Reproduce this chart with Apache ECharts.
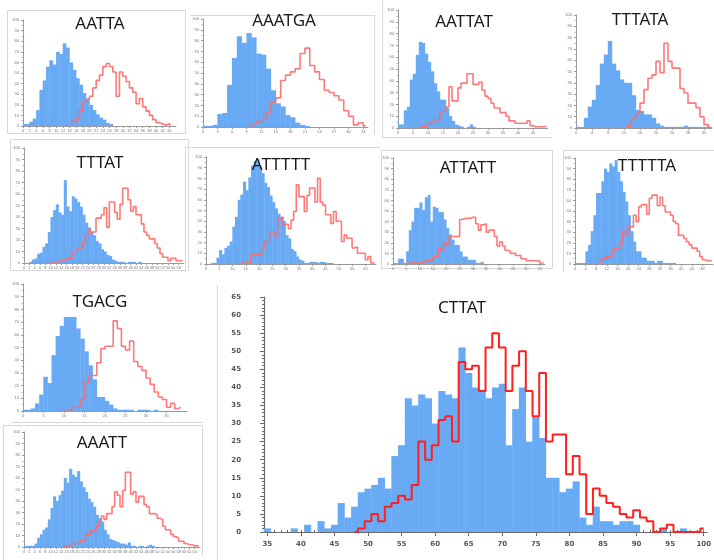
<!DOCTYPE html>
<html><head><meta charset="utf-8">
<script src="https://cdn.jsdelivr.net/npm/echarts@6/dist/echarts.min.js"></script>
<style>html,body{margin:0;padding:0;background:#fff}#c{width:714px;height:560px}</style>
</head><body><div id="c"></div><script>
// ---------- main panel: CTTAT ----------
const cttatX = [35,36,37,38,39,40,41,42,43,44,45,46,47,48,49,50,51,52,53,54,55,56,57,58,59,60,61,62,63,64,65,66,67,68,69,70,71,72,73,74,75,76,77,78,79,80,81,82,83,84,85,86,87,88,89,90,91,92,93,94,95,96,97,98,99,100];
const cttatBlue = [1,0,0,0,1,0,2,0,3,1,2,8,4,7,11,12,13,15,12,21,24,37,35,38,37,30,39,38,37,51,44,40,39,37,40,41,24,34,40,25,32,26,15,15,11,12,14,4,2,7,3,3,2,3,3,2,0,0,0,1,0,0,1,0,0,0];
const cttatRedX = [48,49,50,51,52,53,54,55,56,57,58,59,60,61,62,63,64,65,66,67,68,69,70,71,72,73,74,75,76,77,78,79,80,81,82,83,84,85,86,87,88,89,90,91,92,93,94,95,96,97,98,99,100];
const cttatRed = [0,1,3,5,3,7,8,10,9,13,25,20,24,31,32,25,47,45,46,39,51,55,51,39,46,50,39,32,44,25,27,27,16,21,16,5,12,10,8,7,5,4,6,4,3,0,1,2,0,0,0,0,1];
const cttatXTicks = [35,40,45,50,55,60,65,70,75,80,85,90,95,100];
const cttatYTicks = [0,5,10,15,20,25,30,35,40,45,50,55,60,65];

// ---------- small panels (heights in % of each panel's axis height) ----------
const aattaBlue = [2,2,4,7,15,34,43,56,62,58,70,68,78,74,60,53,45,39,31,26,20,15,11,8,6,3,2];
const aattaRed = [6,4,7,15,23,25,28,36,43,48,56,59,56,51,28,51,47,42,36,32,21,26,18,14,10,6,3,2,1,2,1];
const aattaRedStart = 14;

const aaatgaBlue = [1,1,2,12,13,39,64,84,78,87,83,68,67,54,34,22,19,11,9,4,2,1];
const aaatgaRed = [1,3,5,7,14,23,27,43,48,51,54,68,73,57,51,44,34,32,29,25,15,10,2,4,1];
const aaatgaRedStart = 9;

const aattatBlue = [3,3,15,18,41,46,62,73,72,63,56,48,38,31,24,24,17,10,6,3,2,1,0,1,3,1];
const aattatRed = [1,1,1,4,4,7,7,14,14,18,35,23,23,34,38,38,46,46,37,37,39,32,27,25,21,17,17,13,13,10,6,6,4,4,4,4,6,2,1,1,1,1,1];
const aattatRedStart = 7;

const tttataBlue = [1,1,9,19,25,38,57,65,77,57,51,43,40,40,29,16,15,12,12,9,4,2,1,1,1,1,1,2,1,1,1,1,1,1];
const tttataRed = [1,1,9,13,22,34,44,47,59,49,75,59,53,53,35,31,22,22,18,10,3,1];
const tttataRedStart = 12;

const tttatBlue = [0,0,1,3,4,8,9,14,17,27,40,46,51,44,42,72,49,45,58,56,53,49,42,35,31,27,24,19,17,12,10,7,6,3,2,1,1,1,0,1,1,1,0,1];
const tttatRed = [1,1,1,1,2,2,2,4,4,10,10,13,13,18,24,29,27,27,39,39,42,48,31,53,53,44,38,51,65,65,55,45,49,42,42,34,27,24,21,21,17,13,8,5,5,2,4,4,2,2,2];
const tttatRedStart = 9;

const attttBlue = [0,0,1,1,6,13,9,15,17,21,35,44,60,65,77,69,81,92,96,98,91,85,76,72,64,58,52,47,44,40,27,24,14,12,7,4,3,1,1,2,2,2,1,2,2,1,1,1];
const attttRed = [1,1,1,1,9,9,9,9,15,21,21,30,30,26,43,44,37,37,33,41,49,74,63,63,49,64,71,71,58,80,58,55,46,46,38,49,40,40,21,27,24,24,15,16,10,10,10,4,7,1,1];
const attttRedStart = 13;

const attattBlue = [1,1,5,5,1,12,32,40,53,53,58,51,63,65,40,54,53,49,49,42,34,28,23,18,18,12,7,7,4,4,4,1,1,2];
const attattRed = [1,1,1,1,1,1,1,3,3,3,7,7,15,12,20,18,26,26,26,26,42,43,43,43,44,44,38,32,37,38,30,32,32,26,17,21,17,13,12,10,10,8,8,5,5,3,3,3,3,3,1,1];
const attattRedStart = 5;

const ttttaBlue = [1,1,1,1,12,18,31,46,67,67,78,90,87,95,92,98,87,78,68,59,46,31,21,12,12,6,6,3,3,3,1,3,3,1,1,1,1,1];
const ttttaRed = [1,5,5,7,7,13,15,15,21,31,27,35,35,46,40,54,56,56,47,62,65,65,55,63,55,49,49,46,40,38,27,27,24,21,18,15,15,12,7,4,3,3,3];
const ttttaRedStart = 9;

const tgacgBlue = [1,1,2,6,13,27,22,44,59,67,74,74,74,65,57,47,36,25,11,11,8,5,2,1,1,1,1,0,1,1,1,0,1];
const tgacgRed = [1,1,1,3,3,9,23,28,28,38,49,51,51,71,65,51,48,55,39,35,32,26,21,15,11,9,3,6,2,3];
const tgacgRedStart = 9;

const aaattBlue = [1,1,1,1,3,8,11,15,17,24,34,44,40,45,49,60,56,68,63,61,66,57,52,48,42,39,35,28,25,22,15,11,7,6,5,4,3,3,2,4,1,1,0,1,1,0,1,2,1];
const aaattRed = [1,1,1,1,3,3,3,6,6,11,11,14,14,18,22,27,24,29,29,35,48,45,35,49,65,65,46,48,39,44,44,37,35,29,29,28,25,24,18,15,15,11,9,8,5,5,3,2,2,1,1,1];
const aaattRedStart = 14;

// ---------- layout (pixels) ----------
const panels = [
  {title:'AATTA',  blue:aattaBlue,  red:aattaRed,  redStart:aattaRedStart,  bins:46, xi:2, box:[23,20,176,126],  t:[100,24]},
  {title:'AAATGA', blue:aaatgaBlue, red:aaatgaRed, redStart:aaatgaRedStart, bins:34, xi:3, box:[203,19,368,127], t:[284,21]},
  {title:'AATTAT', blue:aattatBlue, red:aattatRed, redStart:aattatRedStart, bins:50, xi:5, box:[398,10,548,128], t:[464,22]},
  {title:'TTTATA', blue:tttataBlue, red:tttataRed, redStart:tttataRedStart, bins:34, xi:4, box:[576,15,712,128], t:[640,20]},
  {title:'TTTAT',  blue:tttatBlue,  red:tttatRed,  redStart:tttatRedStart,  bins:60, xi:2, box:[24,148,184,263], t:[100,163]},
  {title:'ATTTTT', blue:attttBlue,  red:attttRed,  redStart:attttRedStart,  bins:64, xi:5, box:[206,157,376,264], t:[281,165]},
  {title:'ATTATT', blue:attattBlue, red:attattRed, redStart:attattRedStart, bins:57, xi:5, box:[393,158,545,264], t:[468,168]},
  {title:'TTTTTA', blue:ttttaBlue,  red:ttttaRed,  redStart:ttttaRedStart,  bins:52, xi:4, box:[575,158,713,264], t:[647,166]},
  {title:'TGACG',  blue:tgacgBlue,  red:tgacgRed,  redStart:tgacgRedStart,  bins:40, xi:5, box:[23,284,187,411],  t:[100,302]},
  {title:'AAATT',  blue:aaattBlue,  red:aaattRed,  redStart:aaattRedStart,  bins:66, xi:2, box:[24,432,200,547],  t:[102,443]}
];

const BLUE = '#69aaf5';
function barRenderer(color) {
  return function (params, api) {
    const x = api.value(0), y = api.value(1);
    if (!y) return null;
    const p0 = api.coord([x - 0.5, y]);
    const p1 = api.coord([x + 0.5, 0]);
    return {type:'rect', shape:{x:p0[0]-0.2, y:p0[1], width:p1[0]-p0[0]+0.4, height:p1[1]-p0[1]}, style:{fill:color}};
  };
}

const grids = [], xAxes = [], yAxes = [], series = [], graphics = [];
const axisGray = '#9a9a9a';

panels.forEach((p, i) => {
  const [l, t, r, b] = p.box;
  grids.push({left:l, top:t, width:r-l, height:b-t, containLabel:false});
  xAxes.push({gridIndex:i, type:'value', min:0, max:p.bins, interval:p.xi,
    axisLine:{show:true, onZero:false, lineStyle:{color:axisGray, width:1}},
    axisTick:{show:true, length:2, lineStyle:{color:axisGray}},
    axisLabel:{fontSize:4, color:'#777', margin:3, showMinLabel:true, showMaxLabel:false},
    splitLine:{show:false}});
  yAxes.push({gridIndex:i, type:'value', min:0, max:100, interval:10,
    axisLine:{show:true, lineStyle:{color:axisGray, width:1}},
    axisTick:{show:true, length:2, lineStyle:{color:axisGray}},
    minorTick:{show:true, splitNumber:2, length:1.5, lineStyle:{color:'#9cc4ee'}},
    axisLabel:{fontSize:4, color:'#777', margin:4},
    splitLine:{show:false}});
  series.push({type:'custom', xAxisIndex:i, yAxisIndex:i, renderItem:barRenderer(BLUE),
    data:p.blue.map((v, k) => [k + 0.5, v]), z:2, silent:true});
  series.push({type:'line', xAxisIndex:i, yAxisIndex:i, step:'middle', symbol:'none',
    lineStyle:{color:'#ff6a6a', width:1.6, opacity:0.9},
    data:p.red.map((v, k) => [p.redStart + k + 0.5, v]), z:3, silent:true});
  graphics.push({type:'text', x:p.t[0], y:p.t[1], z:10,
    style:{text:p.title, fill:'#1a1a1a', font:'17px "Noto Sans"', textAlign:'center', textVerticalAlign:'middle'}});
});

// main CTTAT grid
const mi = panels.length;
grids.push({left:264, top:297, width:443.5, height:235, containLabel:false});
xAxes.push({gridIndex:mi, type:'value', min:34.5, max:100.5,
  axisLine:{show:true, onZero:false, lineStyle:{color:'#6a6a6a', width:1.2}},
  axisTick:{show:true, customValues:cttatXTicks, length:4, lineStyle:{color:'#6a6a6a'}},
  axisLabel:{customValues:cttatXTicks, fontSize:7, fontWeight:'bold', color:'#555', margin:9, fontFamily:'DejaVu Sans'},
  splitLine:{show:false}});
xAxes.push({gridIndex:mi, type:'value', min:34.5, max:100.5,
  axisLine:{show:false},
  axisTick:{show:true, customValues:cttatX, length:2, lineStyle:{color:'#6a6a6a'}},
  axisLabel:{show:false}, splitLine:{show:false}});
yAxes.push({gridIndex:mi, type:'value', min:0, max:65, interval:5,
  axisLine:{show:true, lineStyle:{color:'#6a6a6a', width:1.2}},
  axisTick:{show:true, length:4, lineStyle:{color:'#6a6a6a'}},
  minorTick:{show:true, splitNumber:5, length:2, lineStyle:{color:'#6a6a6a'}},
  axisLabel:{customValues:cttatYTicks, fontSize:7, fontWeight:'bold', color:'#555', margin:23, fontFamily:'DejaVu Sans'},
  splitLine:{show:false}});
series.push({type:'custom', xAxisIndex:mi, yAxisIndex:mi, renderItem:barRenderer(BLUE),
  data:cttatX.map((x, k) => [x, cttatBlue[k]]), z:2, silent:true});
series.push({type:'line', xAxisIndex:mi, yAxisIndex:mi, step:'middle', symbol:'none',
  lineStyle:{color:'#ff1f1f', width:2},
  data:cttatRedX.map((x, k) => [x, cttatRed[k]]), z:3, silent:true});
graphics.push({type:'text', x:462, y:308, z:10,
  style:{text:'CTTAT', fill:'#1a1a1a', font:'17px "Noto Sans"', textAlign:'center', textVerticalAlign:'middle'}});

// faint panel frames
const frameStyle = {fill:'none', stroke:'#d8d8d8', lineWidth:1};
const rects = [[7.5,10.5,178,123],[10.5,139.5,178,131],[381.5,150.5,171,118]];
rects.forEach(rc => graphics.push({type:'rect', silent:true, shape:{x:rc[0], y:rc[1], width:rc[2], height:rc[3]}, style:frameStyle}));
const lines = [
  [190,15.5,375,15.5],[374.5,15,374.5,135],
  [382.5,0,382.5,137],[382,137.5,552,137.5],
  [185,147.5,380,147.5],[185.5,147,185.5,272],
  [563,150.5,714,150.5],[563.5,150,563.5,272],
  [12,422.5,203,422.5],
  [3,425.5,202,425.5],[202.5,425,202.5,556],[3.5,425,3.5,560],
  [217.5,285,217.5,560]
];
lines.forEach(ln => graphics.push({type:'line', silent:true, shape:{x1:ln[0], y1:ln[1], x2:ln[2], y2:ln[3]}, style:{stroke:'#d8d8d8', lineWidth:1}}));

const chart = echarts.init(document.getElementById('c'), null, {renderer:'canvas'});
chart.setOption({
  animation:false,
  backgroundColor:'#ffffff',
  grid:grids, xAxis:xAxes, yAxis:yAxes, series:series,
  graphic:{elements:graphics}
});
</script></body></html>
